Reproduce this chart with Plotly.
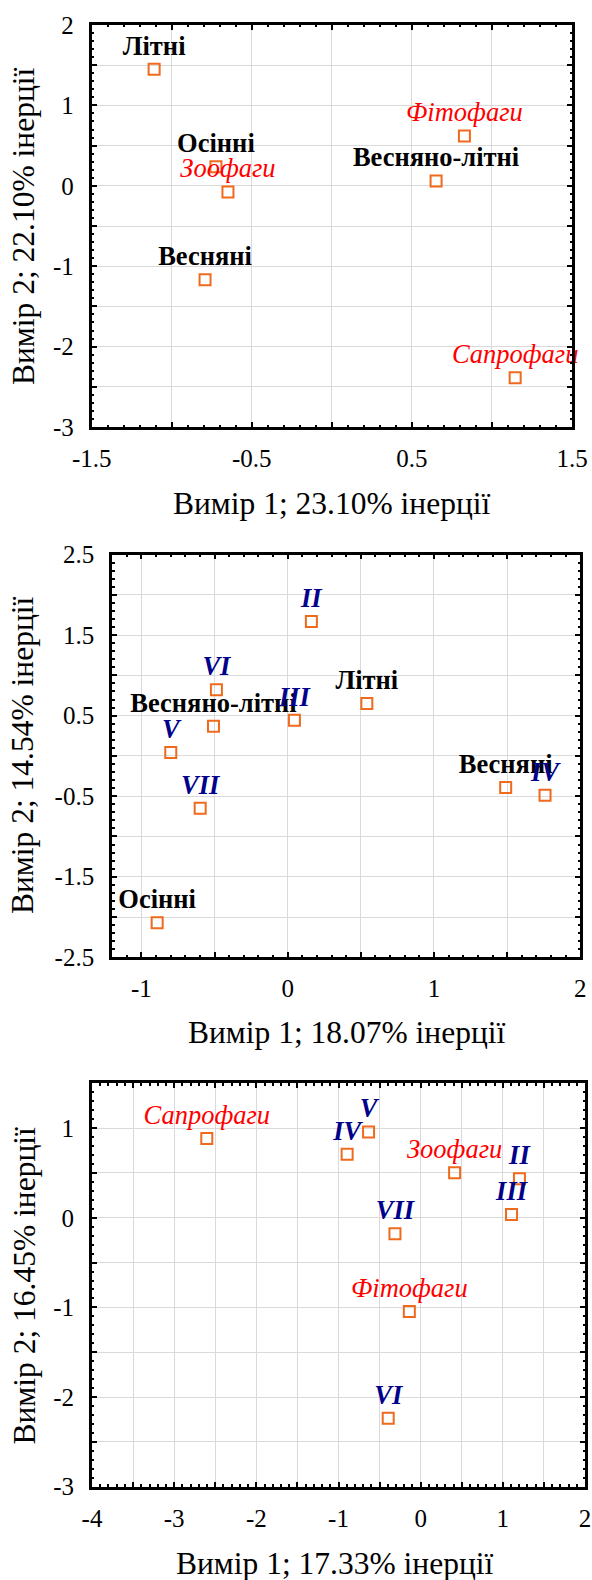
import plotly.graph_objects as go

# ---------------- data ----------------
# Panel 1: seasons + trophic groups
p1_season_names = ["Літні", "Осінні", "Весняні", "Весняно-літні"]
p1_season_x = [-1.11, -0.724, -0.792, 0.651]
p1_season_y = [1.45, 0.238, -1.17, 0.06]
p1_troph_names = ["Зоофаги", "Фітофаги", "Сапрофаги"]
p1_troph_x = [-0.649, 0.828, 1.145]
p1_troph_y = [-0.077, 0.62, -2.387]

# Panel 2: seasons + months
p2_season_names = ["Весняно-літні", "Літні", "Весняні", "Осінні"]
p2_season_x = [-0.507, 0.541, 1.49, -0.892]
p2_season_y = [0.369, 0.65, -0.393, -2.07]
p2_month_names = ["II", "III", "IV", "V", "VI", "VII"]
p2_month_x = [0.162, 0.046, 1.759, -0.799, -0.487, -0.598]
p2_month_y = [1.668, 0.443, -0.489, 0.041, 0.82, -0.65]

# Panel 3: trophic groups + months
p3_troph_names = ["Сапрофаги", "Зоофаги", "Фітофаги"]
p3_troph_x = [-2.603, 0.413, -0.138]
p3_troph_y = [0.884, 0.503, -1.045]
p3_month_names = ["II", "III", "IV", "V", "VI", "VII"]
p3_month_x = [1.202, 1.106, -0.895, -0.634, -0.395, -0.313]
p3_month_y = [0.436, 0.037, 0.708, 0.958, -2.237, -0.179]

# axis titles
x_titles = ["Вимір 1; 23.10% інерції", "Вимір 1; 18.07% інерції", "Вимір 1; 17.33% інерції"]
y_titles = ["Вимір 2; 22.10% інерції", "Вимір 2; 14.54% інерції", "Вимір 2; 16.45% інерції"]

# tick labels
p1_xticks = [-1.5, -0.5, 0.5, 1.5]
p1_yticks = [2, 1, 0, -1, -2, -3]
p2_xticks = [-1, 0, 1, 2]
p2_yticks = [2.5, 1.5, 0.5, -0.5, -1.5, -2.5]
p3_xticks = [-4, -3, -2, -1, 0, 1, 2]
p3_yticks = [1, 0, -1, -2, -3]

# axis ranges
p1_xrange = [-1.5, 1.5]; p1_yrange = [-3, 2]
p2_xrange = [-1.2, 2.0]; p2_yrange = [-2.5, 2.5]
p3_xrange = [-4, 2]; p3_yrange = [-3, 1.5]

# ---------------- styling ----------------
FONT = "Liberation Serif, Times New Roman, Tinos, DejaVu Serif, serif"
W, H = 592, 1580
MARKER = dict(symbol="square-open", size=11, color="#EF6A1C", line=dict(width=2, color="#EF6A1C"))
LBL = 26.5
SEASON_FONT = dict(family=FONT, size=LBL, color="black", weight="bold")
TROPH_FONT = dict(family=FONT, size=LBL, color="#FF0000", style="italic")
MONTH_FONT = dict(family=FONT, size=LBL, color="#00008B", style="italic", weight="bold")

fig = go.Figure()


def add_group(names, xs, ys, font, axis_idx):
    sfx = "" if axis_idx == 1 else str(axis_idx)
    fig.add_trace(go.Scatter(
        x=xs, y=ys, text=names, mode="markers+text", textposition="top center",
        marker=MARKER, textfont=font, cliponaxis=False, showlegend=False,
        xaxis="x" + sfx, yaxis="y" + sfx, hoverinfo="text"))


add_group(p1_season_names, p1_season_x, p1_season_y, SEASON_FONT, 1)
add_group(p1_troph_names, p1_troph_x, p1_troph_y, TROPH_FONT, 1)
add_group(p2_season_names, p2_season_x, p2_season_y, SEASON_FONT, 2)
add_group(p2_month_names, p2_month_x, p2_month_y, MONTH_FONT, 2)
add_group(p3_troph_names, p3_troph_x, p3_troph_y, TROPH_FONT, 3)
add_group(p3_month_names, p3_month_x, p3_month_y, MONTH_FONT, 3)


def grid_vals(rng):
    lo, hi = rng
    vals = []
    k = int(round(lo * 2)) - 1
    while k / 2 <= hi + 1e-9:
        if k / 2 >= lo - 1e-9:
            vals.append(k / 2)
        k += 1
    return vals


def axis_cfg(rng, labels, domain, is_x, anchor):
    vals = grid_vals(rng)
    lab = set(round(v, 3) for v in labels)
    text = [("%g" % v) if round(v, 3) in lab else "" for v in vals]
    return dict(
        range=rng, domain=domain, anchor=anchor, automargin=False,
        tickmode="array", tickvals=vals, ticktext=text,
        ticks="inside", ticklen=5, tickwidth=2, tickcolor="black",
        minor=dict(tickmode="linear", tick0=0, dtick=0.1, ticks="inside", ticklen=2.5,
                   tickwidth=1.5, tickcolor="black", showgrid=False),
        showgrid=True, gridcolor="#DADADA", gridwidth=1, zeroline=False,
        showline=True, linecolor="black", linewidth=2.8, mirror="allticks",
        tickfont=dict(family=FONT, size=25, color="black"),
        ticklabelstandoff=7 if is_x else 10,
        ticklabeloverflow="allow",
        fixedrange=True,
    )


def px_x(p):
    return p / W


def px_y(p):
    return 1 - p / H


def xd(l, r):
    return [px_x(l), px_x(r)]


def yd(t, b):
    return [px_y(b), px_y(t)]


panels = [
    (p1_xrange, p1_yrange, p1_xticks, p1_yticks, xd(91.7, 572), yd(25, 427)),
    (p2_xrange, p2_yrange, p2_xticks, p2_yticks, xd(112.1, 580.3), yd(554.5, 957.3)),
    (p3_xrange, p3_yrange, p3_xticks, p3_yticks, xd(92, 585), yd(1083.3, 1486.7)),
]

layout_axes = {}
for i, (xr, yr, xt, yt, xdom, ydom) in enumerate(panels, start=1):
    sfx = "" if i == 1 else str(i)
    layout_axes["xaxis" + sfx] = axis_cfg(xr, xt, xdom, True, "y" + sfx)
    layout_axes["yaxis" + sfx] = axis_cfg(yr, yt, ydom, False, "x" + sfx)

# axis title annotations (page pixel centres)
x_title_pos = [(331.5, 504), (346.3, 1032), (334, 1563)]
y_title_pos = [(24, 227), (22, 756), (23.5, 1286)]
annotations = []
for txt, (px, py) in zip(x_titles, x_title_pos):
    annotations.append(dict(text=txt, x=px_x(px), y=px_y(py), xref="paper", yref="paper",
                            xanchor="center", yanchor="middle", showarrow=False,
                            font=dict(family=FONT, size=31.5, color="black")))
for txt, (px, py) in zip(y_titles, y_title_pos):
    annotations.append(dict(text=txt, x=px_x(px), y=px_y(py), xref="paper", yref="paper",
                            xanchor="center", yanchor="middle", showarrow=False, textangle=-90,
                            font=dict(family=FONT, size=31.5, color="black")))

fig.update_layout(
    template="none",
    width=W, height=H, margin=dict(l=0, r=0, t=0, b=0, autoexpand=False),
    paper_bgcolor="white", plot_bgcolor="white",
    showlegend=False, annotations=annotations,
    font=dict(family=FONT, color="black"),
    **layout_axes,
)

# remove the browser's default page margin so the figure fills the window exactly
fig.write_html("out.html", config={"displayModeBar": False},
               post_script="document.body.style.margin='0px';document.body.style.overflow='hidden';")
